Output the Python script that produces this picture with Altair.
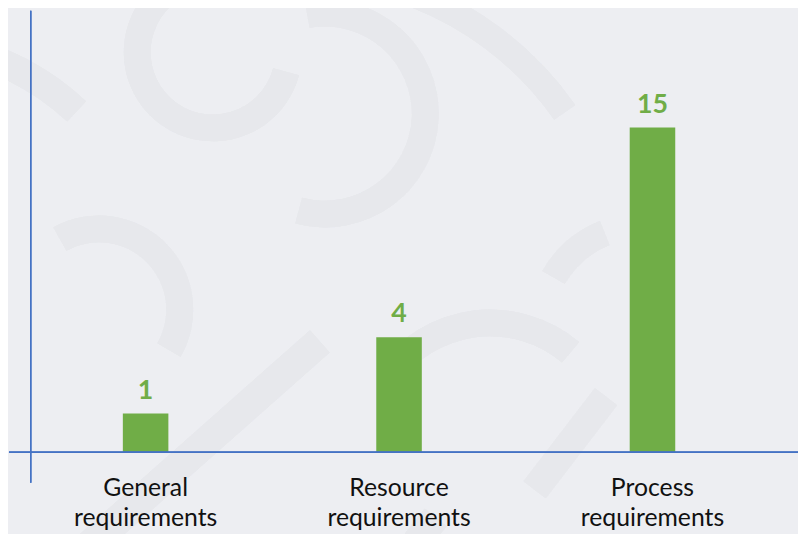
import math
import altair as alt
import pandas as pd

categories = ["General requirements", "Resource requirements", "Process requirements"]
values = [1, 4, 15]

df = pd.DataFrame({"category": categories, "value": values})

BG = "#EDEEF2"
DECO = "#E7E8EC"
GREEN = "#70AD47"
BLUE = "#4472C4"
OFF = 8  # page margin: chart coordinates = page coordinates - 8

xscale = alt.Scale(domain=categories, range=[11, 779], paddingInner=0.82, paddingOuter=0.41)
yscale = alt.Scale(type="pow", exponent=0.786, domain=[0, 15], range=[446, 118])

base = alt.Chart(df)

# faint decorative background strokes (ring segments and straight bands)
ring_specs = [
    (215, 50, 90, 63, 105, 340),
    (328, 112, 115, 88, 350, 555),
    (300, 300, 343, 317, 18, 55),
    (-100, 300, 274, 246, 15, 43),
    (100, 310, 95, 68, 331, 480),
    (495, 450, 140, 113, 305, 400),
    (650, 330, 118, 92, 300, 338),
]
band_specs = [
    (323, 342, 60, 575, 30),
    (612, 398, 540, 492, 28),
    (440, 520, 420, 545, 28),
]
deco_layers = []
for cx, cy, ro, ri, t1, t2 in ring_specs:
    deco_layers.append(
        base.mark_arc(
            color=DECO, radius=ro, radius2=ri,
            theta=math.radians(t1), theta2=math.radians(t2),
        ).encode(x=alt.value(cx - OFF), y=alt.value(cy - OFF))
    )
for x1, y1, x2, y2, w in band_specs:
    deco_layers.append(
        base.mark_rule(color=DECO, strokeWidth=w, strokeCap="butt").encode(
            x=alt.value(x1 - OFF), y=alt.value(y1 - OFF),
            x2=alt.value(x2 - OFF), y2=alt.value(y2 - OFF),
        )
    )

bars = base.mark_bar(color=GREEN, size=46).encode(
    x=alt.X("category:N", scale=xscale, axis=None, sort=categories),
    y=alt.Y("value:Q", scale=yscale, axis=None),
)

vlabels = base.mark_text(
    color=GREEN, font="Lato", fontWeight="bold", fontSize=27, dy=-15, baseline="alphabetic"
).encode(
    x=alt.X("category:N", scale=xscale, axis=None, sort=categories),
    y=alt.Y("value:Q", scale=yscale, axis=None),
    text="value:Q",
)

clabels = base.mark_text(
    color="#111111", font="Lato", fontSize=25, lineBreak=" ", lineHeight=31, baseline="alphabetic"
).encode(
    x=alt.X("category:N", scale=xscale, axis=None, sort=categories),
    y=alt.value(490),
    text="category:N",
)

yaxis = base.mark_rule(color=BLUE, strokeWidth=1.2).encode(
    x=alt.value(23), y=alt.value(0), y2=alt.value(477)
)
xaxis = base.mark_rule(color=BLUE, strokeWidth=1.5).encode(
    x=alt.value(1), x2=alt.value(798), y=alt.value(446)
)

chart = alt.layer(*deco_layers, yaxis, bars, xaxis, vlabels, clabels).properties(
    width=798, height=526, autosize=alt.AutoSizeParams(type="none"), padding=0, background=BG
).configure_view(stroke=None, fill=BG)

chart.save("out.html", embed_options={"renderer": "svg", "actions": False})
